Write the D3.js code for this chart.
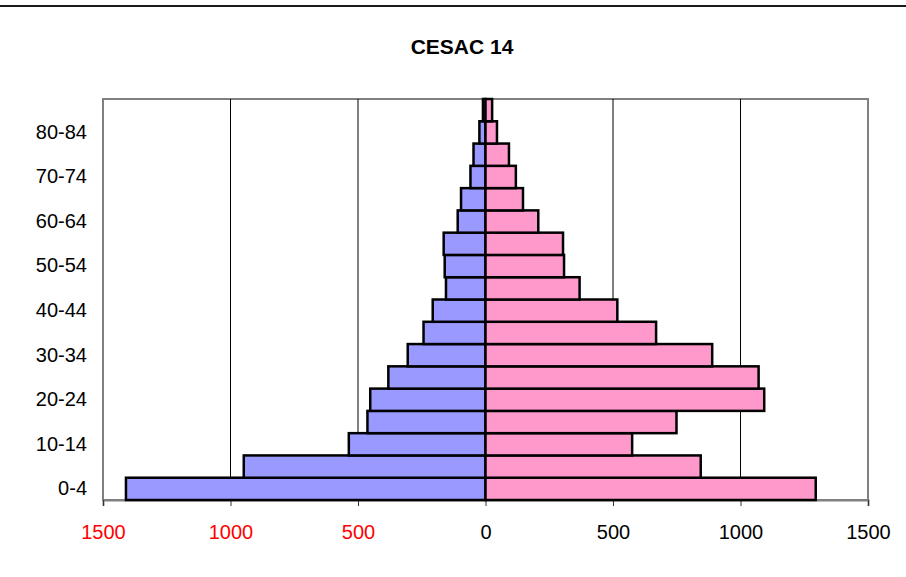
<!DOCTYPE html>
<html>
<head>
<meta charset="utf-8">
<script src="https://cdn.jsdelivr.net/npm/d3@7"></script>
<style>
    body { margin: 0; background: #fff; }
    .chart text { font-family: "Liberation Sans", Arial, sans-serif; }
</style>
</head>
<body>
<div class="chart"></div>
<script>
// age groups from bottom (0-4) to top (85-89)
const ageGroups = ["0-4", "5-9", "10-14", "15-19", "20-24", "25-29", "30-34", "35-39", "40-44",
    "45-49", "50-54", "55-59", "60-64", "65-69", "70-74", "75-79", "80-84", "85-89"];
const maleValues = [1410, 948, 536, 463, 452, 381, 305, 243, 207, 155, 160, 164, 109, 96, 59, 47, 24, 10];
const femaleValues = [1295, 844, 575, 749, 1093, 1071, 889, 669, 517, 369, 308, 304, 207, 147, 119, 92, 45, 26];
const xTickValues = [-1500, -1000, -500, 0, 500, 1000, 1500];
const gridValues = [-1000, -500, 500, 1000];
const yLabelGroups = ["0-4", "10-14", "20-24", "30-34", "40-44", "50-54", "60-64", "70-74", "80-84"];
const chartTitle = "CESAC 14";

const config = {
    margin: {top: 99, right: 38, bottom: 77, left: 103},
    width: 906,
    height: 577,
    maleColor: "#9999ff",
    femaleColor: "#ff99cc"
};

const {margin, width, height} = config;
const innerWidth = width - margin.left - margin.right;
const innerHeight = height - margin.top - margin.bottom;

const data = ageGroups.map((g, i) => ({group: g, male: maleValues[i], female: femaleValues[i]}));

const x = d3.scaleLinear()
    .domain([-1500, 1500])
    .range([0, innerWidth]);

const y = d3.scaleBand()
    .domain(ageGroups.slice().reverse())
    .range([0, innerHeight])
    .padding(0);

const svg = d3.select(".chart").append("svg")
    .attr("width", width)
    .attr("height", height);

// rule across the top of the page
svg.append("line")
    .attr("x1", 0).attr("x2", width)
    .attr("y1", 6).attr("y2", 6)
    .attr("stroke", "#1a1a1a")
    .attr("stroke-width", 2);

svg.append("text")
    .attr("x", 462)
    .attr("y", 54)
    .attr("text-anchor", "middle")
    .attr("font-size", "21px")
    .attr("font-weight", "bold")
    .text(chartTitle);

const chart = svg.append("g")
    .attr("transform", "translate(" + margin.left + "," + margin.top + ")");

chart.append("rect")
    .attr("width", innerWidth)
    .attr("height", innerHeight)
    .attr("fill", "none")
    .attr("stroke", "#808080")
    .attr("stroke-width", 2);

chart.selectAll("line.grid")
    .data(gridValues)
    .join("line")
    .attr("class", "grid")
    .attr("x1", d => x(d)).attr("x2", d => x(d))
    .attr("y1", 0).attr("y2", innerHeight)
    .attr("stroke", "#000")
    .attr("stroke-width", 1);

// x axis
const xAxis = d3.axisBottom(x)
    .tickValues(xTickValues)
    .tickFormat(d => Math.abs(d))
    .tickSize(6)
    .tickPadding(19);

const gx = chart.append("g")
    .attr("transform", "translate(0," + innerHeight + ")")
    .call(xAxis);

gx.select(".domain").attr("stroke", "#808080").attr("stroke-width", 2);
gx.selectAll(".tick line").attr("stroke", "#333");
gx.selectAll(".tick text")
    .attr("font-size", "20px")
    .attr("fill", d => d < 0 ? "#ff0000" : "#000");

// y axis, every other age group
const yAxis = d3.axisLeft(y)
    .tickValues(yLabelGroups)
    .tickSize(0)
    .tickPadding(16);

const gy = chart.append("g").call(yAxis);
gy.select(".domain").remove();
gy.selectAll(".tick text")
    .attr("font-size", "20px")
    .attr("fill", "#000");

// bars
chart.selectAll("rect.male")
    .data(data)
    .join("rect")
    .attr("class", "male")
    .attr("x", d => x(-d.male))
    .attr("y", d => y(d.group))
    .attr("width", d => x(0) - x(-d.male))
    .attr("height", y.bandwidth())
    .attr("fill", config.maleColor)
    .attr("stroke", "#000")
    .attr("stroke-width", 2.5);

chart.selectAll("rect.female")
    .data(data)
    .join("rect")
    .attr("class", "female")
    .attr("x", x(0))
    .attr("y", d => y(d.group))
    .attr("width", d => x(d.female) - x(0))
    .attr("height", y.bandwidth())
    .attr("fill", config.femaleColor)
    .attr("stroke", "#000")
    .attr("stroke-width", 2.5);
</script>
</body>
</html>
